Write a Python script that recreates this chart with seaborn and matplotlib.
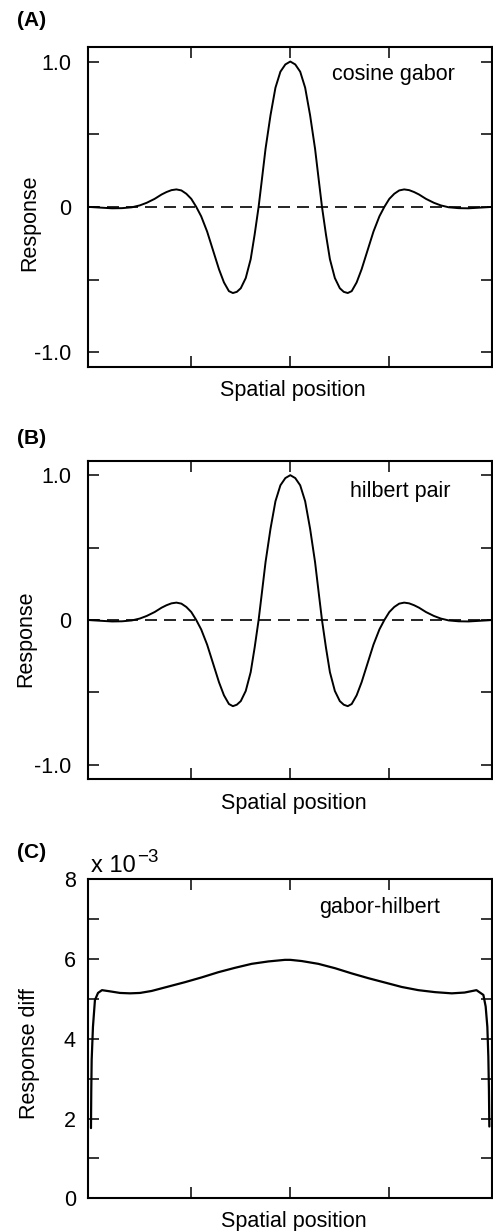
import matplotlib
matplotlib.use("Agg")
import matplotlib.pyplot as plt
import seaborn as sns
import pandas as pd

# ---------------- data ----------------
half_x = [0.00, 0.05, 0.10, 0.15, 0.20, 0.25, 0.29, 0.32, 0.36, 0.40, 0.45, 0.50,
          0.54, 0.58, 0.62, 0.67, 0.72, 0.78, 0.84, 0.90, 0.95, 1.00, 1.05, 1.10,
          1.15, 1.20, 1.25, 1.30, 1.37, 1.45, 1.52, 1.60, 1.70, 1.80, 1.90, 2.00, 2.04]
gabor_half = [1.00, 0.98, 0.93, 0.82, 0.63, 0.40, 0.17, 0.00, -0.19, -0.36, -0.49, -0.56,
              -0.585, -0.593, -0.58, -0.52, -0.43, -0.30, -0.17, -0.065, 0.00, 0.055, 0.09, 0.113,
              0.12, 0.115, 0.102, 0.085, 0.055, 0.028, 0.010, -0.003, -0.009, -0.010, -0.006, -0.002, 0.0]
hilbert_half = [1.00, 0.98, 0.93, 0.82, 0.63, 0.40, 0.17, 0.00, -0.19, -0.36, -0.49, -0.56,
                -0.585, -0.595, -0.58, -0.52, -0.43, -0.30, -0.17, -0.065, 0.00, 0.055, 0.09, 0.113,
                0.12, 0.115, 0.102, 0.085, 0.055, 0.028, 0.010, -0.003, -0.009, -0.010, -0.006, -0.002, 0.0]

position = [-x for x in half_x[::-1]] + half_x[1:]
gabor_resp = gabor_half[::-1] + gabor_half[1:]
hilbert_resp = hilbert_half[::-1] + hilbert_half[1:]

diff_x = [-2.013, -2.010, -2.006, -1.993, -1.973, -1.942, -1.902, -1.821, -1.720, -1.619,
          -1.518, -1.400, -1.232, -1.064, -0.895, -0.727, -0.559, -0.390, -0.222, -0.054,
          0.000, 0.115, 0.283, 0.452, 0.620, 0.788, 0.957, 1.125, 1.293, 1.462,
          1.630, 1.760, 1.880, 1.950, 1.973, 1.990, 2.000, 2.006, 2.010]
diff_y = [1.76, 2.70, 3.47, 4.30, 4.97, 5.15, 5.22, 5.19, 5.15, 5.14,
          5.15, 5.20, 5.31, 5.42, 5.54, 5.67, 5.78, 5.88, 5.94, 5.98,
          5.98, 5.95, 5.88, 5.77, 5.64, 5.52, 5.41, 5.30, 5.22, 5.17,
          5.14, 5.16, 5.22, 5.10, 4.81, 4.30, 3.55, 2.72, 1.80]

resp_ticks = [-1.0, -0.5, 0.0, 0.5, 1.0]
resp_labels = ["-1.0", "", "0", "", "1.0"]
diff_ticks = [0, 1, 2, 3, 4, 5, 6, 7, 8]
diff_labels = ["0", "", "2", "", "4", "", "6", "", "8"]
x_ticks = [-1, 0, 1]

panel_letters = ["(A)", "(B)", "(C)"]
panel_names = ["cosine gabor", "hilbert pair", "gabor-hilbert"]
ylabels = ["Response", "Response", "Response diff"]
xlabel = "Spatial position"

# ---------------- style ----------------
sns.set_style("ticks")
plt.rcParams["font.family"] = ["Liberation Sans", "DejaVu Sans"]
plt.rcParams.update({"text.color": "black", "axes.labelcolor": "black",
                     "xtick.color": "black", "ytick.color": "black",
                     "axes.edgecolor": "black"})
FS = 15.5

W, H = 493, 1231
fig = plt.figure(figsize=(W / 100, H / 100), dpi=100)


def add_axes_px(left, top, right, bottom):
    return fig.add_axes([left / W, 1 - bottom / H, (right - left) / W, (bottom - top) / H])


axA = add_axes_px(88.3, 47.0, 492.3, 366.7)
axB = add_axes_px(88.3, 460.7, 492.3, 779.3)
axC = add_axes_px(88.3, 879.3, 492.3, 1198.3)


def style_axis(ax, yticks, ylabels_, ylim, pad):
    ax.set_xlim(-2.04, 2.04)
    ax.set_ylim(*ylim)
    ax.set_xticks(x_ticks)
    ax.set_xticklabels([])
    ax.set_yticks(yticks)
    ax.set_yticklabels(ylabels_)
    ax.tick_params(axis="both", which="major", direction="in", length=8, width=1.1,
                   top=True, right=True, labelsize=FS, colors="black")
    ax.tick_params(axis="y", pad=pad)
    for s in ax.spines.values():
        s.set_linewidth(1.5)
        s.set_color("black")
        s.set_visible(True)


dfA = pd.DataFrame({"pos": position, "resp": gabor_resp})
dfB = pd.DataFrame({"pos": position, "resp": hilbert_resp})
dfC = pd.DataFrame({"pos": diff_x, "resp": diff_y})

for ax, df in [(axA, dfA), (axB, dfB)]:
    ax.axhline(0, color="black", lw=1.2, dashes=(7.2, 4.2), zorder=1)
    sns.lineplot(data=df, x="pos", y="resp", ax=ax, color="black", lw=1.4,
                 estimator=None, sort=False, zorder=2)
    style_axis(ax, resp_ticks, resp_labels, (-1.1, 1.1), 12.4)

sns.lineplot(data=dfC, x="pos", y="resp", ax=axC, color="black", lw=1.6,
             estimator=None, sort=False)
style_axis(axC, diff_ticks, diff_labels, (0, 8), 8.9)

# labels
label_pos = [(axA, -0.118, 0.451, 0.507, -0.042),
             (axB, -0.128, 0.440, 0.509, -0.044),
             (axC, -0.120, 0.455, 0.509, -0.040)]
for (ax, yx, yy, xx, xy), yl in zip(label_pos, ylabels):
    ax.set_ylabel(yl, fontsize=FS, color="black")
    ax.yaxis.set_label_coords(yx, yy)
    ax.set_xlabel(xlabel, fontsize=FS, color="black")
    ax.xaxis.set_label_coords(xx, xy)
    ax.xaxis.label.set_va("top")

name_pos = [(axA, 0.6025, 0.897), (axB, 0.648, 0.885), (axC, 0.572, 0.895)]
for (ax, tx, ty), nm in zip(name_pos, panel_names):
    ax.text(tx, ty, nm, transform=ax.transAxes, ha="left", va="baseline",
            fontsize=FS, color="black")

for letter, yc in zip(panel_letters, [21, 439, 852]):
    fig.text(17 / W, 1 - yc / H, letter, ha="left", va="center", fontsize=15,
             fontweight="bold", color="black")

# exponent annotation for panel C
fig.text(90.7 / W, 1 - 871.7 / H, "x 10", ha="left", va="baseline", fontsize=17,
         color="black")
fig.text(137.5 / W, 1 - 861.7 / H, "\u22123", ha="left", va="baseline", fontsize=13.5,
         color="black")

fig.savefig("out.png", dpi=100)
